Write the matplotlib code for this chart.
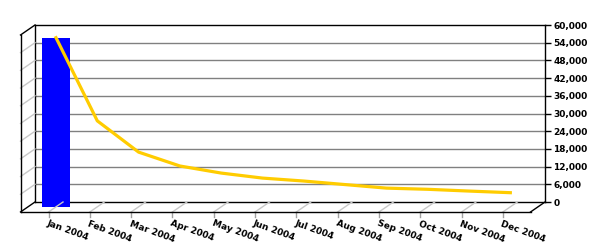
import numpy as np
import matplotlib
matplotlib.use("Agg")
import matplotlib.pyplot as plt
from matplotlib import transforms
from matplotlib.lines import Line2D

months = ["Jan 2004", "Feb 2004", "Mar 2004", "Apr 2004", "May 2004", "Jun 2004",
          "Jul 2004", "Aug 2004", "Sep 2004", "Oct 2004", "Nov 2004", "Dec 2004"]
bar_values = [57400, 0, 0, 0, 0, 0, 0, 0, 0, 0, 0, 0]
line_values = [57400, 29200, 18600, 13900, 11500, 9800, 8800, 7600, 6400, 6000, 5400, 4850]
y_ticks = np.arange(0, 60001, 6000)

fig = plt.figure(figsize=(6, 2.5), dpi=100)
ax = fig.add_axes([35 / 600, 48 / 250, 510 / 600, 177 / 250])
x = np.arange(len(months))
xmin, xmax = -0.678, 11.67
ax.set_xlim(xmin, xmax)
ax.set_ylim(0, 60000)

# depth offsets for the fake 3d look (inches)
mid = ax.transData + transforms.ScaledTranslation(-0.07, -0.05, fig.dpi_scale_trans)
front = ax.transData + transforms.ScaledTranslation(-0.145, -0.10, fig.dpi_scale_trans)

for y in y_ticks[1:-1]:
    ax.axhline(y, color="#808080", lw=1, zorder=1)

bars = ax.bar(x, bar_values, width=0.68, color="#0000ff", zorder=3, clip_on=False)
for b in bars:
    b.set_transform(mid)
ax.plot(x, line_values, color="#ffcc00", lw=2.3, transform=mid, clip_on=False,
        zorder=4, solid_joinstyle="round")

for s in ax.spines.values():
    s.set_color("black")
    s.set_linewidth(1)

ax.set_xticks([])
ax.yaxis.tick_right()
ax.set_yticks(y_ticks)
ax.set_yticklabels([f"{v:,}" for v in y_ticks], fontsize=6.5, fontweight="bold")
ax.tick_params(axis="y", length=4, width=1, pad=2, colors="black")

fig.canvas.draw()
ident = transforms.IdentityTransform()


def depth_line(xd, yd, color, lw=1, z=2):
    p0 = ax.transData.transform((xd, yd))
    p1 = front.transform((xd, yd))
    fig.add_artist(Line2D([p0[0], p1[0]], [p0[1], p1[1]], color=color, lw=lw,
                          transform=ident, zorder=z))


def front_line(a, b, color="black", lw=1):
    p0 = front.transform(a)
    p1 = front.transform(b)
    fig.add_artist(Line2D([p0[0], p1[0]], [p0[1], p1[1]], color=color, lw=lw,
                          transform=ident, zorder=5))


# side wall grid stubs
for y in y_ticks[1:-1]:
    depth_line(xmin, y, "#c8c8c8")
# floor lines at each month
for xi in x:
    depth_line(xi, 0, "#c8c8c8")
    p = front.transform((xi, 0))
    fig.add_artist(Line2D([p[0], p[0]], [p[1], p[1] - 5], color="#a0a0a0", lw=1,
                          transform=ident))

# frame edges
depth_line(xmin, 60000, "black", z=5)
depth_line(xmin, 0, "black", z=5)
depth_line(xmax, 0, "black", z=5)
front_line((xmin, 0), (xmax, 0))
front_line((xmin, 0), (xmin, 60000))

label_tr = front + transforms.ScaledTranslation(0.0, -0.07, fig.dpi_scale_trans)
for xi, m in zip(x, months):
    ax.text(xi, 0, m, transform=label_tr, rotation=-20, rotation_mode="anchor",
            ha="left", va="top", fontsize=6.5, fontweight="bold", clip_on=False)

fig.savefig("out.png", dpi=100)
